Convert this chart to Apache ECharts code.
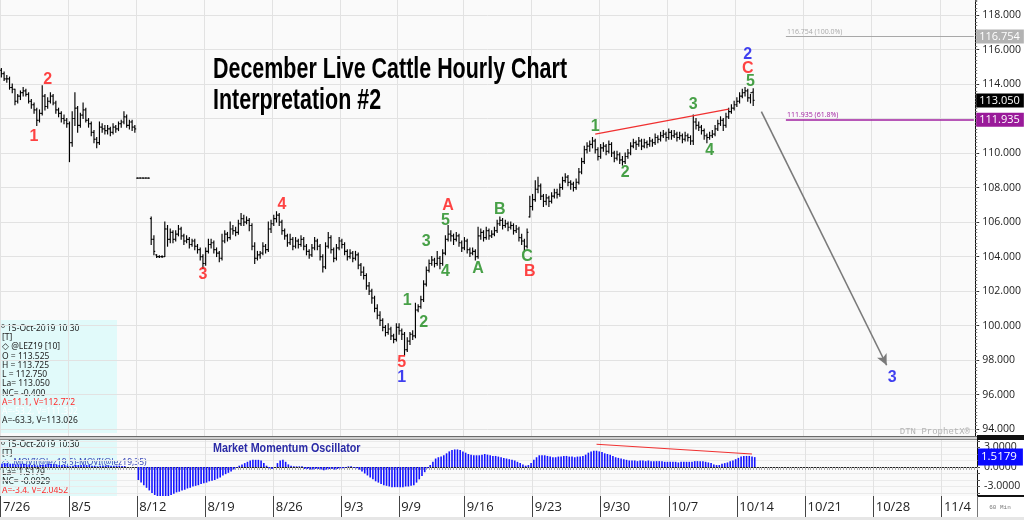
<!DOCTYPE html>
<html><head><meta charset="utf-8">
<script src="https://cdn.jsdelivr.net/npm/echarts@6/dist/echarts.min.js"></script>
<style>html,body{margin:0;padding:0;background:#fff}#c{width:1024px;height:520px}</style>
</head><body><div id="c"></div>
<script>
// ---------- axis labels ----------
const weekStarts = [0,25,50,75,100,125,146,170,195,220,245,270,295,320,345];
const weekLabels = ['7/26','8/5','8/12','8/19','8/26','9/3','9/9','9/16','9/23','9/30','10/7','10/14','10/21','10/28','11/4'];
const slotCount = 358;
const priceTicks = [94,96,98,100,102,104,106,108,110,112,114,116,118];
const oscGridTicks = [-4,-3,-2,-1,0,1,2,3,4];
const oscLabelTicks = [-3,0,3];

// ---------- hourly OHLC (December Live Cattle) ----------
const opens = [
114.8,114.6,114.3,114.3,113.8,113.7,113.0,113.3,113.5,113.6,
113.4,113.0,112.8,112.5,111.9,112.3,113.3,112.7,113.0,113.3,
112.9,112.5,112.3,112.0,111.9,111.7,110.6,112.0,112.6,111.6,
112.2,112.5,111.9,111.7,111.2,110.8,110.6,111.5,111.4,111.3,
111.4,111.2,111.5,111.4,111.7,111.8,112.1,111.6,111.8,111.5,
108.55,108.55,108.55,108.55,108.55,
106.2,105.0,104.1,104.0,104.0,
104.0,105.6,105.0,105.4,105.0,105.3,105.6,105.2,104.9,105.0,
104.7,104.9,104.6,104.4,104.0,103.6,104.3,104.7,104.8,104.4,
104.2,103.9,104.9,105.3,105.1,105.6,105.5,105.4,105.9,106.2,
106.0,106.1,105.8,104.6,103.9,104.1,104.2,104.6,104.4,105.6,
105.9,106.2,106.4,106.0,105.5,105.2,104.8,105.0,104.6,104.9,
104.7,105.0,104.6,104.3,104.1,104.5,104.9,104.6,104.0,103.4,
104.6,105.1,104.4,103.9,104.5,104.9,104.7,104.3,104.0,104.2,
103.9,104.1,103.5,103.1,102.9,102.3,102.0,101.6,101.0,100.6,
100.3,99.9,99.6,99.8,99.4,99.2,99.9,99.7,99.5,98.6,
99.1,99.5,99.4,100.9,101.1,101.5,102.4,103.2,103.6,103.8,
103.6,103.9,103.6,104.2,105.0,105.3,105.2,105.0,105.2,104.8,
104.5,104.9,104.4,104.2,104.3,104.0,105.2,105.4,105.1,105.5,
105.2,105.3,105.5,105.9,106.1,105.8,105.9,105.7,105.8,105.5,
105.6,105.1,104.9,104.6,106.3,106.9,107.3,107.9,108.1,107.5,
107.2,107.4,107.2,107.5,107.7,107.6,108.0,108.4,108.6,108.3,
108.2,108.0,108.3,108.9,109.5,110.2,110.4,110.5,110.7,110.2,
109.8,110.3,110.4,110.1,110.5,110.0,109.7,109.9,109.6,109.5,
109.8,110.0,110.4,110.6,110.5,110.7,110.4,110.6,110.5,110.7,
110.6,110.9,110.8,111.0,111.1,110.9,111.2,111.0,111.1,110.9,
111.0,110.8,111.0,110.9,110.7,111.8,111.6,111.5,111.3,111.0,
110.9,111.0,111.1,111.4,111.7,111.9,111.6,112.1,112.4,112.6,
112.8,113.0,113.3,113.5,113.6,113.2,113.525];
const highs = [
114.9,114.7,114.5,114.4,114.0,113.7,113.4,113.6,113.8,113.7,
113.5,113.1,112.9,112.6,112.5,113.9,113.4,113.2,113.5,113.4,
113.0,112.6,112.4,112.2,112.0,111.8,112.4,113.5,112.7,112.3,
112.9,112.6,112.0,111.8,111.3,110.9,111.8,111.7,111.6,111.6,
111.5,111.7,111.6,111.8,111.9,112.4,112.2,111.9,111.9,111.6,
108.55,108.55,108.55,108.55,108.55,
106.3,105.2,104.1,104.05,104.05,
106.0,105.8,105.6,105.5,105.5,105.8,105.7,105.3,105.2,105.1,
105.0,105.0,104.7,104.5,104.1,104.5,105.0,105.0,104.9,104.5,
104.3,105.3,105.5,105.4,106.0,105.8,105.7,106.1,106.5,106.4,
106.3,106.2,105.9,104.8,104.3,104.3,104.8,104.7,106.0,106.1,
106.4,106.6,106.5,106.1,105.6,105.3,105.3,105.1,105.1,105.0,
105.2,105.1,104.7,104.4,104.7,105.1,105.0,104.7,104.1,104.8,
105.4,105.2,104.5,104.7,105.1,105.0,104.8,104.4,104.4,104.3,
104.3,104.2,103.6,103.4,103.0,102.5,102.1,101.7,101.2,100.8,
100.4,100.0,100.1,99.9,99.5,100.1,100.1,99.8,99.6,99.3,
99.6,99.7,101.3,101.2,101.7,102.6,103.4,103.8,104.0,103.9,
104.3,104.0,104.4,105.2,105.8,105.5,105.3,105.4,105.3,104.9,
105.1,105.0,104.5,104.5,104.4,105.7,105.6,105.5,105.7,105.6,
105.5,105.7,106.1,106.3,106.2,106.1,106.0,106.0,105.9,105.8,
105.7,105.3,105.0,105.6,107.5,107.6,108.4,108.6,108.2,107.6,
107.6,107.5,107.7,107.9,107.9,108.2,108.6,108.8,108.7,108.4,
108.3,108.5,109.1,109.7,110.4,110.6,110.7,110.9,110.8,110.3,
110.5,110.6,110.5,110.7,110.6,110.1,110.1,110.0,109.8,110.0,
110.2,110.6,110.8,110.7,110.9,110.8,110.8,110.7,110.9,110.8,
111.1,111.0,111.2,111.3,111.2,111.4,111.3,111.3,111.2,111.2,
111.1,111.2,111.1,111.0,112.2,112.0,111.8,111.6,111.4,111.1,
111.2,111.3,111.6,111.9,112.1,112.0,112.3,112.6,112.8,113.0,
113.2,113.5,113.7,113.8,113.7,113.4,113.725];
const lows = [
114.4,114.2,114.1,113.7,113.5,112.8,112.9,113.1,113.3,113.3,
112.9,112.6,112.3,111.6,111.8,112.2,112.5,112.6,112.9,112.8,
112.3,112.1,111.8,111.7,111.5,109.5,110.4,111.6,111.2,111.5,
112.0,111.8,111.5,111.0,110.6,110.3,110.5,111.2,111.1,111.1,
111.0,111.1,111.2,111.3,111.5,111.7,111.5,111.4,111.3,111.2,
108.55,108.55,108.55,108.55,108.55,
104.7,104.1,103.95,103.95,103.95,
104.0,104.6,104.8,104.8,104.9,105.2,105.0,104.7,104.8,104.5,
104.6,104.4,104.2,103.8,103.3,103.5,104.2,104.5,104.2,104.0,
103.7,103.8,104.8,104.9,105.0,105.3,105.2,105.3,105.8,105.8,
105.9,105.5,104.4,103.6,103.8,103.9,104.1,104.2,104.3,105.4,
105.8,106.0,105.8,105.3,105.0,104.6,104.7,104.4,104.5,104.5,
104.6,104.4,104.1,103.9,104.0,104.4,104.4,103.8,103.1,103.3,
104.5,104.2,103.7,103.8,104.4,104.5,104.1,103.8,103.9,103.7,
103.8,103.3,102.9,102.7,102.1,101.8,101.3,100.8,100.4,100.0,
99.7,99.4,99.5,99.2,99.0,99.1,99.5,99.2,98.3,98.5,
98.9,99.2,99.3,100.8,101.0,101.4,102.3,103.1,103.5,103.4,
103.5,103.3,103.5,104.1,104.9,104.9,104.7,104.9,104.6,104.3,
104.4,104.2,104.0,104.1,103.8,103.9,105.0,104.9,105.0,105.0,
105.1,105.2,105.4,105.8,105.6,105.7,105.5,105.6,105.3,105.4,
104.9,104.7,104.4,104.5,106.3,106.7,107.2,107.7,107.3,106.9,
107.0,106.9,107.1,107.4,107.4,107.5,107.9,108.3,108.1,107.9,
107.8,107.9,108.2,108.8,109.4,110.0,110.1,110.3,110.0,109.6,
109.7,110.1,109.9,110.0,109.8,109.5,109.6,109.4,109.3,109.4,
109.7,109.9,110.3,110.2,110.4,110.2,110.3,110.3,110.4,110.4,
110.5,110.6,110.7,110.9,110.7,110.8,110.8,110.9,110.7,110.8,
110.6,110.7,110.7,110.5,110.5,111.4,111.3,111.1,110.8,110.6,
110.8,110.9,111.0,111.3,111.6,111.3,111.5,112.0,112.3,112.5,
112.7,112.9,113.2,113.3,113.0,112.9,112.75];
const closes = [
114.6,114.3,114.3,113.8,113.7,113.0,113.3,113.5,113.6,113.4,
113.0,112.8,112.5,111.9,112.3,113.3,112.7,113.0,113.3,112.9,
112.5,112.3,112.0,111.9,111.7,110.6,112.0,112.6,111.6,112.2,
112.5,111.9,111.7,111.2,110.8,110.6,111.5,111.4,111.3,111.4,
111.2,111.5,111.4,111.7,111.8,112.1,111.6,111.8,111.5,111.4,
108.55,108.55,108.55,108.55,108.55,
105.0,104.3,104.0,104.0,104.0,
105.6,105.0,105.4,105.0,105.3,105.6,105.2,104.9,105.0,104.7,
104.9,104.6,104.4,104.0,103.6,104.3,104.7,104.8,104.4,104.2,
103.9,104.9,105.3,105.1,105.6,105.5,105.4,105.9,106.2,106.0,
106.1,105.8,104.6,103.9,104.1,104.2,104.6,104.4,105.6,105.9,
106.2,106.4,106.0,105.5,105.2,104.8,105.0,104.6,104.9,104.7,
105.0,104.6,104.3,104.1,104.5,104.9,104.6,104.0,103.4,104.6,
105.1,104.4,103.9,104.5,104.9,104.7,104.3,104.0,104.2,103.9,
104.1,103.5,103.1,102.9,102.3,102.0,101.6,101.0,100.6,100.3,
99.9,99.6,99.8,99.4,99.2,99.9,99.7,99.5,98.6,99.1,
99.5,99.4,100.9,101.1,101.5,102.4,103.2,103.6,103.8,103.6,
103.9,103.6,104.2,105.0,105.3,105.2,105.0,105.2,104.8,104.5,
104.9,104.4,104.2,104.3,104.0,105.2,105.4,105.1,105.5,105.2,
105.3,105.5,105.9,106.1,105.8,105.9,105.7,105.8,105.5,105.6,
105.1,104.9,104.6,105.4,106.9,107.3,107.9,108.1,107.5,107.2,
107.4,107.2,107.5,107.7,107.6,108.0,108.4,108.6,108.3,108.2,
108.0,108.3,108.9,109.5,110.2,110.4,110.5,110.7,110.2,109.8,
110.3,110.4,110.1,110.5,110.0,109.7,109.9,109.6,109.5,109.8,
110.0,110.4,110.6,110.5,110.7,110.4,110.6,110.5,110.7,110.6,
110.9,110.8,111.0,111.1,110.9,111.2,111.0,111.1,110.9,111.0,
110.8,111.0,110.9,110.7,111.8,111.6,111.5,111.3,111.0,110.9,
111.0,111.1,111.4,111.7,111.9,111.6,112.1,112.4,112.6,112.8,
113.0,113.3,113.5,113.6,113.2,113.5,113.05];

// ---------- Market Momentum Oscillator ----------
const oscValues = [
0.5,0.6,0.6,0.5,0.5,0.4,0.4,0.5,0.5,0.4,
0.4,0.3,0.3,0.2,0.3,0.4,0.4,0.5,0.5,0.4,
0.4,0.3,0.3,0.3,0.2,0.1,0.2,0.3,0.3,0.3,
0.4,0.3,0.3,0.2,0.2,0.1,0.2,0.2,0.2,0.2,
0.2,0.2,0.2,0.2,0.15,0.15,null,null,null,null,
-2.0,-2.4,-2.8,-3.2,-3.6,-4.0,-4.3,-4.5,-4.6,-4.6,
-4.6,-4.5,-4.3,-4.1,-3.9,-3.8,-3.6,-3.5,-3.3,-3.2,
-3.0,-2.9,-2.8,-2.6,-2.5,-2.4,-2.2,-2.1,-2.0,-1.8,
-1.6,-1.3,-1.1,-0.9,-0.7,-0.4,-0.1,0.2,0.4,0.6,
0.8,1.0,1.1,1.1,1.1,1.0,0.6,0.2,-0.2,-0.3,
0.0,0.6,1.0,1.1,0.8,0.4,0.2,0.1,0.1,0.1,
0.1,-0.3,-0.3,-0.4,-0.4,-0.3,-0.3,-0.4,-0.5,-0.4,
-0.3,-0.3,-0.4,-0.3,-0.2,-0.2,-0.1,0.1,0.1,-0.1,
-0.2,-0.4,-0.7,-1.0,-1.3,-1.6,-1.9,-2.2,-2.4,-2.6,
-2.8,-2.9,-3.0,-3.1,-3.1,-3.1,-3.1,-3.1,-3.0,-3.0,
-2.9,-2.8,-2.4,-1.9,-1.4,-0.8,-0.2,0.3,0.8,1.3,
1.5,1.6,1.8,2.1,2.4,2.6,2.7,2.7,2.6,2.4,
2.2,2.0,1.9,1.8,1.8,1.8,1.9,2.0,1.9,1.8,
1.7,1.7,1.6,1.5,1.4,1.3,1.2,1.1,1.0,0.8,
0.6,0.4,0.2,0.3,0.6,1.1,1.5,1.8,1.8,1.8,
1.7,1.6,1.5,1.5,1.6,1.6,1.7,1.7,1.6,1.6,
1.5,1.6,1.6,1.7,1.9,2.2,2.4,2.5,2.5,2.4,
2.3,2.1,2.0,1.9,1.7,1.5,1.4,1.3,1.2,1.1,
1.0,1.0,1.0,0.9,1.0,1.0,0.9,1.0,0.9,0.9,
0.9,0.9,0.9,0.8,0.8,0.8,0.8,0.8,0.7,0.8,
0.8,0.8,0.8,0.8,0.9,0.9,0.9,0.9,0.8,0.7,
0.6,0.4,0.3,0.3,0.5,0.6,0.7,0.9,1.0,1.2,
1.4,1.6,1.7,1.7,1.7,1.6,1.5179];

// ---------- annotations (slot, price) ----------
const redWaves = [['2',17,114.23],['1',12,110.93],['3',74,102.93],['4',103,106.99],['5',147,97.83],['A',164,106.93],['B',194,103.10],['C',274,114.87]];
const greenWaves = [['1',149,101.42],['2',155,100.2],['3',156,104.84],['4',163,103.1],['5',163,106.06],['A',175,103.33],['B',183,106.75],['C',193,103.97],['1',218,111.51],['2',229,108.84],['3',254,112.78],['4',260,110.17],['5',275,114.12]];
const blueWaves = [['1',147,96.96],['2',274,115.68],['3',327,96.96]];
const fibLevels = [116.754, 111.935];
const fibPcts = ['100.0%', '61.8%'];
const fibStartSlot = 288;
const lastPrice = 113.050;
const oscLast = 1.5179;
const arrowFrom = [279, 112.4], arrowTo = [325, 97.7];
const trendFrom = [218, 111.1], trendTo = [267, 112.55];
const oscTrendFrom = [218, 3.5], oscTrendTo = [275, 2.0];

// ---------- build ----------
const cats = Array.from({length: slotCount}, (_, i) => String(i));
const ohlc = opens.map((o, i) => [i, o, highs[i], lows[i], closes[i]]);
const isWeek = (idx) => weekStarts.indexOf(idx) >= 0;
const lastCat = slotCount - 1;
const waveData = (arr) => arr.map(w => ({name: w[0], value: [w[1], w[2]]}));
const waveSeries = (arr, color) => ({
  type: 'scatter', xAxisIndex: 0, yAxisIndex: 0, symbolSize: 0, z: 5, silent: true,
  data: waveData(arr),
  label: {show: true, position: 'inside', formatter: '{b}', color: color, fontSize: 16, fontWeight: 'bold', fontFamily: 'Liberation Sans'}
});
const hidden = {color: 'rgba(0,0,0,0)', width: 0.01, type: 'solid'};
const boxLabel = (txt, bg) => ({show: true, position: 'end', formatter: txt, backgroundColor: bg, color: '#fff',
  fontSize: 11, fontFamily: 'Open Sans', padding: [2, 4, 1, 3], distance: 1});

const chart = echarts.init(document.getElementById('c'), null, {renderer: 'canvas', width: 1024, height: 520});
const infoFont = '8.5px "Noto Sans"';
const option = {
  animation: false,
  backgroundColor: '#ffffff',
  grid: [
    {left: 0, top: 0, width: 977, height: 436, show: true, backgroundColor: '#fafafa', borderWidth: 0},
    {left: 0, top: 440, width: 977, height: 56, show: true, backgroundColor: '#fafafa', borderWidth: 0}
  ],
  xAxis: [
    {type: 'category', gridIndex: 0, data: cats, boundaryGap: true, position: 'bottom',
     axisLine: {show: false}, axisTick: {show: false}, axisLabel: {show: false},
     splitLine: {show: true, interval: (i) => isWeek(i), lineStyle: {color: '#e2e2e2', width: 1}}},
    {type: 'category', gridIndex: 1, data: cats, boundaryGap: true, position: 'bottom',
     axisLine: {show: true, lineStyle: {color: '#222', width: 1}},
     axisTick: {show: true, interval: 0, length: 3, lineStyle: {color: '#aaa'}},
     axisLabel: {show: true, interval: (i) => isWeek(i), formatter: (v) => weekLabels[weekStarts.indexOf(Number(v))] || '',
       align: 'left', padding: [0, 0, 0, 1], margin: 5, fontSize: 13, color: '#222', fontFamily: 'Open Sans'},
     splitLine: {show: true, interval: (i) => isWeek(i), lineStyle: {color: '#e2e2e2'}}},
    {type: 'category', gridIndex: 1, data: cats, boundaryGap: true, position: 'bottom',
     axisLine: {show: false}, axisLabel: {show: false}, splitLine: {show: false},
     axisTick: {show: true, interval: (i) => isWeek(i), length: 21, lineStyle: {color: '#444'}}}
  ],
  yAxis: [
    {type: 'value', gridIndex: 0, position: 'right', min: 93.6, max: 118.87, scale: true,
     axisLine: {show: true, onZero: false, lineStyle: {color: '#111'}},
     axisTick: {show: true, customValues: priceTicks, length: 4, lineStyle: {color: '#333'}},
     axisLabel: {show: true, customValues: priceTicks, formatter: (v) => v.toFixed(3), fontSize: 10.5, color: '#222', margin: 7, fontFamily: 'Open Sans'},
     splitLine: {show: true, lineStyle: {color: '#e2e2e2'}}},
    {type: 'value', gridIndex: 0, position: 'right', min: 93.6, max: 118.87, interval: 0.2,
     axisLine: {show: false}, axisLabel: {show: false}, splitLine: {show: false},
     axisTick: {show: true, length: 2, lineStyle: {color: '#777'}}},
    {type: 'value', gridIndex: 1, position: 'right', min: -4.46, max: 4.15,
     axisLine: {show: true, onZero: false, lineStyle: {color: '#111'}},
     axisTick: {show: true, customValues: oscGridTicks, length: 3, lineStyle: {color: '#555'}},
     axisLabel: {show: true, customValues: oscLabelTicks, formatter: (v) => v.toFixed(4), fontSize: 10.5, color: '#222', margin: 7, fontFamily: 'Open Sans'},
     splitLine: {show: true, lineStyle: {color: '#ebebeb'}}}
  ],
  series: [
    {
      type: 'custom', name: 'LEZ19', xAxisIndex: 0, yAxisIndex: 0, data: ohlc, z: 3,
      encode: {x: 0, y: [1, 2, 3, 4]},
      renderItem: function (params, api) {
        const x = api.value(0);
        const o = api.coord([x, api.value(1)]);
        const h = api.coord([x, api.value(2)]);
        const l = api.coord([x, api.value(3)]);
        const c = api.coord([x, api.value(4)]);
        const w = api.size([1, 0])[0] * 0.48;
        const st = {stroke: '#000', lineWidth: 1.15};
        return {type: 'group', children: [
          {type: 'line', shape: {x1: h[0], y1: h[1] - 0.5, x2: l[0], y2: l[1] + 0.5}, style: st},
          {type: 'line', shape: {x1: o[0] - w, y1: o[1], x2: o[0], y2: o[1]}, style: st},
          {type: 'line', shape: {x1: c[0], y1: c[1], x2: c[0] + w, y2: c[1]}, style: st}
        ]};
      },
      markLine: {
        silent: true, symbol: ['none', 'none'], animation: false, precision: 3,
        data: [
          [{coord: [fibStartSlot, fibLevels[0]], lineStyle: {color: '#a8a8a8', width: 1.2, type: 'solid'},
            label: {show: true, position: 'insideStartTop', formatter: fibLevels[0].toFixed(3) + ' (' + fibPcts[0] + ')', color: '#aaaaaa', fontSize: 7, distance: 1, fontFamily: 'Open Sans'}},
           {coord: [lastCat, fibLevels[0]]}],
          [{coord: [fibStartSlot, fibLevels[1]], lineStyle: {color: '#a020a0', width: 1.5, type: 'solid'},
            label: {show: true, position: 'insideStartTop', formatter: fibLevels[1].toFixed(3) + ' (' + fibPcts[1] + ')', color: '#a020a0', fontSize: 7, distance: 1, fontFamily: 'Open Sans'}},
           {coord: [lastCat, fibLevels[1]]}],
          {yAxis: fibLevels[0], lineStyle: hidden, label: boxLabel(fibLevels[0].toFixed(3), '#b3b3b3')},
          {yAxis: lastPrice, lineStyle: hidden, label: boxLabel(lastPrice.toFixed(3), '#000000')},
          {yAxis: fibLevels[1], lineStyle: hidden, label: boxLabel(fibLevels[1].toFixed(3), '#9a1a9a')},
          [{coord: arrowFrom, lineStyle: {color: '#7a7a7a', width: 1.6, type: 'solid'}, label: {show: false}},
           {coord: arrowTo, symbol: 'arrow', symbolSize: [8, 11]}],
          [{coord: trendFrom, lineStyle: {color: '#f03030', width: 1.3, type: 'solid'}, label: {show: false}},
           {coord: trendTo}]
        ]
      }
    },
    waveSeries(redWaves, '#ff1414'),
    waveSeries(greenWaves, '#1a8a1a'),
    waveSeries(blueWaves, '#1010ee'),
    {
      type: 'bar', name: 'MMO', xAxisIndex: 1, yAxisIndex: 2, data: oscValues, barWidth: 1.6,
      itemStyle: {color: '#1414ff'}, silent: true, z: 3,
      markLine: {
        silent: true, symbol: ['none', 'none'], animation: false,
        data: [
          [{coord: oscTrendFrom, lineStyle: {color: '#f03030', width: 1.2, type: 'solid'}, label: {show: false}}, {coord: oscTrendTo}],
          {yAxis: oscLast, lineStyle: hidden, label: Object.assign(boxLabel(oscLast.toFixed(4), '#0a0aff'), {fontSize: 11.5, padding: [3, 6, 2, 3]})}
        ]
      }
    }
  ],
  graphic: [
    // separators
    {type: 'rect', z: 50, shape: {x: 0, y: 436, width: 1024, height: 4}, style: {fill: '#cfcfcf'}},
    {type: 'line', z: 51, shape: {x1: 0, y1: 436.5, x2: 1024, y2: 436.5}, style: {stroke: '#6a6a6a', lineWidth: 1}},
    {type: 'line', z: 51, shape: {x1: 0, y1: 439.5, x2: 1024, y2: 439.5}, style: {stroke: '#8a8a8a', lineWidth: 1}},
    {type: 'rect', z: 51, shape: {x: 977, y: 435, width: 47, height: 5}, style: {fill: '#111'}},
    {type: 'rect', z: 51, shape: {x: 977, y: 495, width: 47, height: 2}, style: {fill: '#111'}},
    {type: 'rect', z: 50, shape: {x: 0, y: 517, width: 1024, height: 3}, style: {fill: '#e6e6e6'}},
    {type: 'line', z: 51, shape: {x1: 977.5, y1: 496, x2: 977.5, y2: 517}, style: {stroke: '#777', lineWidth: 1}},
    {type: 'text', z: 60, x: 1000, y: 507, style: {text: '60 Min', fill: '#777', font: '6px "Liberation Mono"', align: 'center', verticalAlign: 'middle', textAlign: 'center', textVerticalAlign: 'middle'}},
    // title
    {type: 'text', z: 60, x: 213, y: 54, scaleX: 0.715, originX: 0, originY: 0,
     style: {text: 'December Live Cattle Hourly Chart\nInterpretation #2', fill: '#000',
      font: 'bold 30px "Liberation Sans"', lineHeight: 31}},
    {type: 'text', z: 60, x: 213, y: 442, scaleX: 0.86, originX: 0, originY: 0,
     style: {text: 'Market Momentum Oscillator', fill: '#2a2aa6', font: 'bold 12.5px "Liberation Sans"'}},
    {type: 'text', z: 60, x: 970, y: 432, style: {text: 'DTN ProphetX®', fill: '#b3b3b3', font: '9px "Liberation Mono"',
      align: 'right', verticalAlign: 'middle', textAlign: 'right', textVerticalAlign: 'middle'}},
    // info panel (price)
    {type: 'group', z: 80, children: [
      {type: 'rect', shape: {x: 0, y: 320, width: 117, height: 113}, style: {fill: 'rgba(222,250,250,0.92)'}},
      {type: 'circle', shape: {cx: 3, cy: 326, r: 1.6}, style: {fill: 'none', stroke: '#555', lineWidth: 0.8}},
      ...[
        ['15-Oct-2019 10:30', 329, '#222', 7],
        ['[T]', 338, '#222', 2],
        ['◇ @LEZ19 [10]', 347, '#222', 2],
        ['O = 113.525', 357, '#222', 2],
        ['H = 113.725', 366, '#222', 2],
        ['L = 112.750', 375, '#222', 2],
        ['La= 113.050', 384, '#222', 2],
        ['NC= -0.400', 394, '#222', 2],
        ['A=11.1, V=112.772', 403, '#ff2a2a', 2],
        ['A=-53.2, V=111.302', 412, '#ffffff', 2],
        ['A=-63.3, V=113.026', 421, '#222', 2]
      ].map(t => ({type: 'text', x: t[3], y: t[1], style: {text: t[0], fill: t[2], font: infoFont,
        verticalAlign: 'middle', textVerticalAlign: 'middle'}}))
    ]},
    // info panel (oscillator)
    {type: 'group', z: 80, children: [
      {type: 'rect', shape: {x: 0, y: 440, width: 117, height: 56}, style: {fill: 'rgba(222,250,250,0.92)'}},
      {type: 'circle', shape: {cx: 3, cy: 443, r: 1.6}, style: {fill: 'none', stroke: '#555', lineWidth: 0.8}},
      ...[
        ['15-Oct-2019 10:30', 445, '#222', 7],
        ['[T]', 454, '#222', 2],
        ['◇ .MOVI(@lez19,5)-MOVI(@lez19,35)', 463, '#3a48b8', 2],
        ['La= 1.5179', 473, '#222', 2],
        ['NC= -0.0929', 482, '#222', 2],
        ['A=-3.4, V=2.0452', 491, '#ff2a2a', 2]
      ].map(t => ({type: 'text', x: t[3], y: t[1], style: {text: t[0], fill: t[2], font: infoFont,
        verticalAlign: 'middle', textVerticalAlign: 'middle'}}))
    ]}
  ]
};
chart.setOption(option);
</script>
</body></html>
